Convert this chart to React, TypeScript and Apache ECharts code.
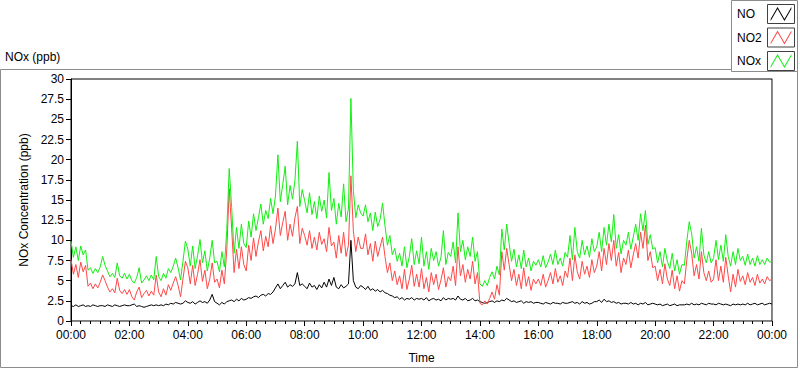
import React, { useEffect, useRef } from "react";
import * as echarts from "echarts";

// sampling step of the series, minutes
const STEP_MIN = 5;

// series names
const seriesNames = ["NO", "NO2", "NOx"];

// NO (ppb), 12 values per hour from 00:00, last value at 24:00
const noValues = [
  1.9, 1.8, 2.0, 1.8, 1.9, 2.0, 1.8, 1.9, 1.8, 2.0, 1.9, 1.8,
  1.9, 1.9, 1.8, 2.0, 1.9, 1.8, 2.0, 1.9, 1.8, 1.9, 2.0, 1.9,
  1.9, 2.0, 2.1, 1.8, 1.9, 1.8, 1.7, 1.8, 1.9, 2.0, 1.9, 2.0,
  1.9, 2.0, 1.9, 2.1, 2.0, 2.2, 2.1, 2.3, 2.2, 2.1, 2.2, 2.5,
  2.3, 2.2, 2.4, 2.1, 2.3, 2.5, 2.3, 2.4, 2.2, 2.6, 3.3, 2.4,
  2.2, 2.0, 2.3, 2.1, 2.4, 2.5, 2.6, 2.4, 2.7, 2.5, 2.8, 2.6,
  2.7, 2.9, 2.8, 3.0, 3.1, 2.9, 3.2, 3.3, 3.1, 3.4, 3.3, 3.6,
  4.1, 4.6, 4.0, 4.4, 4.8, 4.2, 4.5, 4.3, 4.6, 6.0, 4.4, 4.6,
  4.3, 4.0, 4.7, 4.2, 4.4, 3.9, 4.5, 4.1, 4.8, 4.2, 5.2, 4.4,
  5.4, 4.2, 4.0, 4.5, 4.1, 4.3, 4.6, 10.0, 5.0, 4.2, 4.0, 4.4,
  4.2, 3.9, 4.3, 3.8, 4.0, 3.7, 3.9, 3.6, 3.8, 3.5, 3.4, 3.2,
  3.1, 2.9, 3.0, 2.7, 2.9, 2.6, 2.8, 2.7, 2.9, 2.6, 2.8, 2.7,
  2.8, 2.6, 2.9, 2.5, 2.7, 2.8, 2.6, 2.7, 2.5, 2.9, 2.6, 2.8,
  2.7, 2.8, 2.6, 3.1, 2.7, 2.6, 2.8, 2.5, 2.6, 2.8, 2.5, 2.6,
  2.4, 2.3, 2.2, 2.3, 2.4, 2.5, 2.3, 2.5, 2.4, 2.6, 2.5, 2.8,
  2.6, 2.4, 2.5, 2.3, 2.4, 2.5, 2.2, 2.4, 2.3, 2.4, 2.2, 2.3,
  2.3, 2.2, 2.1, 2.3, 2.2, 2.1, 2.3, 2.2, 2.2, 2.1, 2.3, 2.2,
  2.2, 2.3, 2.4, 2.2, 2.3, 2.1, 2.4, 2.2, 2.3, 2.1, 2.2, 2.4,
  2.4, 2.6, 2.3, 2.7, 2.4, 2.5, 2.3, 2.4, 2.2, 2.3, 2.1, 2.2,
  2.2, 2.1, 2.3, 2.1, 2.2, 2.0, 2.2, 2.1, 2.3, 2.0, 2.1, 2.2,
  2.1, 2.0, 2.1, 1.9, 2.0, 2.1, 1.9, 2.0, 2.1, 1.9, 2.0, 2.0,
  2.0, 2.1, 2.0, 2.2, 2.0, 2.1, 2.0, 2.2, 2.1, 2.0, 2.2, 2.1,
  2.1, 2.0, 2.2, 2.1, 2.0, 2.1, 2.0, 1.9, 2.1, 2.0, 2.1, 2.0,
  2.1, 2.0, 2.2, 2.0, 2.1, 2.2, 2.0, 2.1, 2.2, 2.0, 2.1, 2.2,
  2.1,
];

// NO2 (ppb)
const no2Values = [
  7.6, 5.8, 7.0, 5.4, 7.3, 6.1, 6.9, 4.3, 4.7, 4.0, 4.6, 4.1,
  4.8, 5.7, 5.0, 4.2, 3.6, 4.0, 3.5, 5.3, 3.8, 3.4, 3.9, 3.3,
  3.9, 3.0, 2.6, 3.6, 4.2, 2.9, 3.4, 3.8, 3.1, 3.7, 3.2, 5.7,
  3.6, 3.0, 4.0, 3.2, 4.5, 3.8, 4.7, 5.5, 4.4, 3.0, 5.2, 7.4,
  6.6, 4.6, 6.9, 4.4, 5.8, 7.6, 4.9, 6.3, 4.0, 5.2, 7.2, 4.8,
  5.2, 4.1, 6.3, 4.6, 8.8, 16.4, 11.5, 6.0, 8.9, 6.5, 9.2, 7.0,
  6.2, 9.4, 7.5, 10.3, 8.0, 9.8, 11.2, 8.7, 10.5, 9.2, 11.8, 9.6,
  11.4, 14.0, 10.6, 12.2, 13.6, 10.0, 12.0, 10.5, 12.8, 14.2, 9.6, 11.5,
  10.6, 9.4, 11.2, 9.0, 10.4, 8.8, 11.0, 9.5, 10.2, 8.6, 11.6, 9.3,
  9.8, 7.8, 10.6, 8.4, 11.0, 8.0, 9.4, 18.0, 11.2, 8.6, 10.4, 9.0,
  9.0, 10.8, 8.2, 9.6, 7.4, 9.9, 8.0, 9.2, 10.4, 8.0, 6.0, 7.2,
  5.0, 6.2, 4.5, 5.6, 4.0, 6.4, 3.9, 5.2, 6.9, 4.3, 5.8, 4.2,
  6.5, 4.0, 5.4, 3.6, 6.0, 4.5, 5.8, 3.9, 5.1, 6.6, 4.2, 5.5,
  5.0, 6.8, 4.4, 9.2, 5.6, 7.0, 4.8, 6.4, 5.2, 7.4, 4.6, 6.0,
  2.2, 2.0, 2.5, 2.1, 2.8, 3.6, 2.7, 4.5, 3.2, 8.6, 6.3, 9.0,
  7.0, 5.0, 6.4, 4.4, 5.8, 4.0, 6.6, 4.3, 5.5, 3.8, 5.2, 4.6,
  5.2, 4.4, 5.8, 4.2, 5.0, 6.0, 4.6, 6.5, 4.8, 5.6, 4.4, 6.2,
  5.4, 7.8, 5.0, 8.2, 6.1, 5.2, 7.4, 5.8, 6.8, 5.4, 7.6, 6.0,
  6.8, 8.6, 6.2, 9.0, 7.0, 9.6, 7.5, 10.0, 6.8, 8.5, 6.0, 7.8,
  7.0, 8.8, 6.6, 8.2, 9.6, 7.8, 11.0, 9.0, 11.9, 7.5, 8.6, 6.6,
  6.8, 5.0, 6.4, 4.6, 7.1, 5.2, 4.4, 6.3, 4.0, 5.6, 3.7, 5.0,
  4.6, 7.6, 10.0, 8.4, 5.6, 7.0, 5.2, 8.6, 6.0, 5.0, 6.2, 4.8,
  5.2, 7.6, 5.0, 6.8, 4.8, 7.9, 5.6, 3.6, 5.8, 4.2, 6.4, 4.9,
  5.6, 4.5, 6.0, 4.8, 5.4, 4.4, 5.8, 4.7, 5.2, 4.6, 5.5, 5.0,
  5.2,
];

// NOx (ppb)
const noxValues = [
  9.9, 7.9, 9.2, 7.5, 9.3, 8.2, 8.8, 6.3, 6.6, 5.9, 6.5, 6.0,
  6.7, 8.0, 6.9, 6.2, 5.5, 5.9, 5.4, 7.2, 5.6, 5.3, 5.9, 5.2,
  5.8, 5.0, 4.7, 5.4, 6.6, 4.7, 5.1, 5.6, 5.0, 5.7, 5.1, 8.0,
  5.5, 5.0, 5.9, 5.3, 6.5, 6.0, 6.8, 7.8, 6.6, 5.1, 7.4, 9.9,
  8.9, 6.8, 9.3, 6.5, 8.1, 10.1, 7.2, 8.7, 6.2, 7.8, 10.0, 7.2,
  7.4, 6.1, 8.6, 6.7, 11.2, 18.9, 14.1, 8.4, 11.6, 9.0, 12.0, 9.6,
  9.1, 12.4, 10.4, 13.3, 11.2, 12.8, 14.5, 12.0, 13.7, 12.7, 15.2, 13.3,
  15.5, 20.6, 14.8, 16.9, 19.2, 14.4, 16.8, 15.1, 17.4, 22.3, 14.2, 16.3,
  14.9, 13.4, 15.9, 13.2, 14.8, 12.7, 15.5, 13.6, 15.0, 12.8, 18.4, 13.7,
  15.2, 12.0, 14.6, 12.9, 17.0, 12.3, 14.0, 27.6, 16.2, 12.8, 14.4, 13.4,
  13.0, 14.4, 12.3, 13.4, 11.2, 13.5, 11.7, 12.6, 14.6, 11.8, 9.4, 10.6,
  8.2, 9.0, 7.4, 8.4, 6.8, 9.2, 6.6, 8.0, 10.2, 7.0, 8.7, 7.1,
  10.4, 6.8, 8.6, 6.4, 9.0, 7.5, 8.6, 6.8, 7.9, 11.2, 7.0, 8.5,
  8.0, 9.8, 7.2, 13.4, 8.6, 10.0, 7.6, 9.2, 8.0, 10.4, 7.4, 8.6,
  4.6, 4.3, 5.0, 4.4, 5.4, 6.1, 5.2, 6.8, 5.7, 11.4, 8.8, 12.0,
  9.6, 7.4, 8.9, 6.7, 8.2, 6.5, 8.8, 6.7, 7.8, 6.2, 7.4, 6.9,
  7.6, 6.7, 8.1, 6.6, 7.3, 8.3, 7.0, 8.8, 7.0, 7.8, 6.8, 8.5,
  7.9, 10.6, 7.6, 11.6, 8.6, 7.8, 10.0, 8.2, 9.3, 7.9, 10.2, 8.6,
  9.2, 11.0, 8.6, 11.6, 9.4, 12.0, 9.8, 13.2, 9.0, 10.7, 8.3, 10.0,
  9.4, 11.0, 8.9, 10.4, 12.0, 10.0, 13.3, 11.2, 13.7, 9.5, 10.7, 8.9,
  9.1, 7.2, 8.6, 6.7, 9.0, 7.4, 6.5, 8.4, 6.2, 7.6, 5.8, 7.0,
  6.9, 9.9, 12.3, 10.8, 7.8, 9.2, 7.4, 11.5, 8.2, 7.2, 8.6, 7.2,
  7.8, 10.0, 7.6, 9.4, 7.4, 10.7, 8.0, 6.8, 8.6, 7.0, 9.0, 7.5,
  8.0, 6.9, 8.3, 7.0, 7.8, 6.8, 8.1, 7.0, 7.6, 7.0, 7.8, 7.3,
  7.4,
];

// y tick settings and x tick settings
const yMin = 0;
const yMax = 30;
const yStep = 2.5;
const xMinMin = 0;
const xMaxMin = 1440;
const xStepMin = 120;

const seriesColors = ["#000000", "#ff4848", "#12ee12"];
const FONT = "'Liberation Sans', Arial, sans-serif";

function fmtTime(v: number): string {
  const m = ((Math.round(v) % 1440) + 1440) % 1440;
  const h = Math.floor(m / 60);
  const mm = m % 60;
  return String(h).padStart(2, "0") + ":" + String(mm).padStart(2, "0");
}

const ZIGZAG = "path://M0,15 L8,1 L16,15 L24,1 L24,3.2 L16,17.2 L8,3.2 L0,17.2 Z";

export default function App() {
  const ref = useRef<HTMLDivElement>(null);

  useEffect(() => {
    document.body.style.margin = "0";
    if (!ref.current) return;
    const chart = echarts.init(ref.current, undefined, { renderer: "svg" });
    const allSeries = [noValues, no2Values, noxValues];
    const option: any = {
      animation: false,
      backgroundColor: "#ffffff",
      textStyle: { fontFamily: FONT },
      grid: {
        left: 71,
        top: 79,
        width: 701,
        height: 251,
        show: true,
        borderColor: "#000000",
        borderWidth: 1,
        backgroundColor: "transparent",
      },
      legend: {
        orient: "vertical",
        left: 737,
        top: 7,
        padding: 0,
        align: "right",
        itemWidth: 22,
        itemHeight: 14,
        itemGap: 9.5,
        icon: ZIGZAG,
        selectedMode: false,
        itemStyle: { borderWidth: 0 },
        data: seriesNames,
        formatter: "{a|{name}}",
        textStyle: {
          fontFamily: FONT,
          fontSize: 12,
          color: "#000",
          rich: { a: { width: 28, align: "left", fontSize: 12, lineHeight: 14, fontFamily: FONT, color: "#000" } },
        },
      },
      xAxis: {
        type: "value",
        min: xMinMin,
        max: xMaxMin,
        interval: xStepMin,
        name: "Time",
        nameLocation: "middle",
        nameGap: 31,
        nameTextStyle: { color: "#000", fontSize: 12, fontFamily: FONT },
        axisLine: { show: true, lineStyle: { color: "#8a8a8a", width: 1 } },
        axisTick: { show: true, length: 5, lineStyle: { color: "#000" } },
        minorTick: { show: true, splitNumber: 6, length: 3, lineStyle: { color: "#000" } },
        splitLine: { show: false },
        axisLabel: {
          color: "#000",
          fontSize: 12,
          fontFamily: FONT,
          margin: 8,
          showMinLabel: true,
          showMaxLabel: true,
          formatter: (v: number) => fmtTime(v),
        },
      },
      yAxis: [
        {
          type: "value",
          min: yMin,
          max: yMax,
          interval: yStep,
          name: "NOx Concentration (ppb)",
          nameLocation: "middle",
          nameGap: 38,
          nameTextStyle: { color: "#000", fontSize: 12, fontFamily: FONT },
          axisLine: { show: true, lineStyle: { color: "#000", width: 1 } },
          axisTick: { show: true, length: 5, lineStyle: { color: "#000" } },
          splitLine: { show: false },
          axisLabel: { color: "#000", fontSize: 12, fontFamily: FONT, margin: 7 },
        },
        {
          type: "value",
          min: yMin,
          max: yMax,
          interval: yStep,
          position: "right",
          axisLine: { show: true, onZero: false, lineStyle: { color: "#8a8a8a", width: 1 } },
          axisTick: { show: false },
          axisLabel: { show: false },
          splitLine: { show: false },
        },
      ],
      series: seriesNames.map((name, k) => ({
        name,
        type: "line",
        yAxisIndex: 0,
        showSymbol: false,
        symbol: "none",
        color: seriesColors[k],
        lineStyle: { color: seriesColors[k], width: 1 },
        data: allSeries[k].map((v, i) => [i * STEP_MIN, v]),
        z: 2 + k,
      })),
      graphic: [
        {
          type: "rect",
          shape: { x: 0.5, y: 69.5, width: 797, height: 298 },
          style: { fill: "none", stroke: "#8c8c8c", lineWidth: 1 },
          z: -10,
          silent: true,
        },
        {
          type: "text",
          left: 5,
          top: 51,
          style: { text: "NOx (ppb)", fill: "#000", fontSize: 12, fontFamily: FONT },
        },
        {
          type: "rect",
          shape: { x: 731.5, y: 0.5, width: 66, height: 71 },
          style: { fill: "#ffffff", stroke: "#8c8c8c", lineWidth: 1 },
          z: 0,
          silent: true,
        },
        {
          type: "rect",
          shape: { x: 767.5, y: 4.5, width: 27, height: 19 },
          style: { fill: "none", stroke: "#404040", lineWidth: 1 },
          z: 1,
          silent: true,
        },
        {
          type: "rect",
          shape: { x: 767.5, y: 28, width: 27, height: 19 },
          style: { fill: "none", stroke: "#404040", lineWidth: 1 },
          z: 1,
          silent: true,
        },
        {
          type: "rect",
          shape: { x: 767.5, y: 51.5, width: 27, height: 19 },
          style: { fill: "none", stroke: "#404040", lineWidth: 1 },
          z: 1,
          silent: true,
        },
      ],
    };
    chart.setOption(option);
    return () => chart.dispose();
  }, []);

  return <div ref={ref} style={{ width: 800, height: 369 }} />;
}
